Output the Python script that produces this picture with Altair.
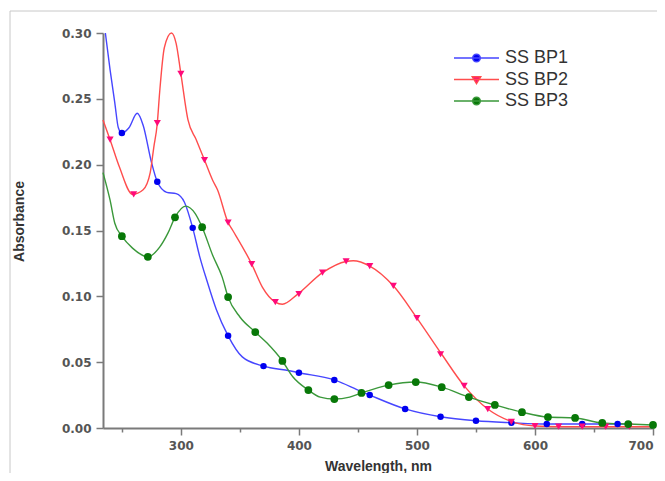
import altair as alt
import pandas as pd

series_names = ["SS BP1", "SS BP2", "SS BP3"]

# ---- curve traces (wavelength nm, absorbance) ----
bp1_wl = [236, 240, 244, 247, 250, 256, 263, 268, 275, 280, 288, 296, 303, 310, 316, 322, 330, 340, 352, 370, 392, 400, 430, 452, 460, 490, 520, 550, 580, 610, 640, 670, 680]
bp1_abs = [0.300, 0.272, 0.247, 0.228, 0.224, 0.228, 0.239, 0.230, 0.202, 0.187, 0.179, 0.178, 0.1715, 0.152, 0.130, 0.112, 0.090, 0.070, 0.054, 0.047, 0.0435, 0.042, 0.0365, 0.028, 0.025, 0.0145, 0.0085, 0.0055, 0.004, 0.003, 0.003, 0.003, 0.003]

bp2_wl = [234, 240, 248, 259, 268, 274, 277, 280, 282, 286, 292, 296, 300, 306, 313, 320, 327, 331, 340, 344, 360, 369, 380, 386, 399, 420, 440, 446, 460, 480, 500, 521, 540, 560, 581, 600, 620, 700]
bp2_abs = [0.234, 0.219, 0.198, 0.1775, 0.181, 0.194, 0.213, 0.2315, 0.255, 0.289, 0.300, 0.292, 0.269, 0.234, 0.219, 0.2035, 0.188, 0.181, 0.156, 0.150, 0.1245, 0.107, 0.0956, 0.094, 0.1017, 0.118, 0.1265, 0.127, 0.123, 0.108, 0.0835, 0.056, 0.032, 0.0144, 0.0046, 0.0015, 0.001, 0.001]

bp3_wl = [234, 240, 244, 250, 259, 272, 282, 289, 295, 304, 312, 318, 327, 335, 340, 350, 363, 373, 386, 395, 408, 418, 430, 443, 453, 476, 499, 521, 544, 566, 589, 611, 634, 657, 679, 700]
bp3_abs = [0.194, 0.173, 0.1555, 0.1457, 0.1366, 0.130, 0.1374, 0.148, 0.160, 0.1685, 0.163, 0.1525, 0.131, 0.1146, 0.0994, 0.0843, 0.0729, 0.0645, 0.0509, 0.0387, 0.0288, 0.0235, 0.022, 0.0235, 0.0266, 0.0326, 0.0349, 0.031, 0.0235, 0.0175, 0.012, 0.0083, 0.0076, 0.0038, 0.003, 0.0023]

# ---- marker positions ----
bp1_mk_wl = [250, 280, 310, 340, 370, 400, 430, 460, 490, 520, 550, 580, 610, 640, 670]
bp1_mk_abs = [0.224, 0.187, 0.152, 0.070, 0.047, 0.042, 0.0365, 0.025, 0.0145, 0.0085, 0.0055, 0.004, 0.003, 0.003, 0.003]

bp2_mk_wl = [240, 260, 280, 300, 320, 340, 360, 380, 400, 420, 440, 460, 480, 500, 520, 540, 560, 580, 600, 620, 640, 660, 680]
bp2_mk_abs = [0.219, 0.1775, 0.2315, 0.269, 0.2035, 0.156, 0.1245, 0.0956, 0.1017, 0.118, 0.1265, 0.123, 0.108, 0.0835, 0.056, 0.032, 0.0144, 0.0046, 0.0015, 0.001, 0.001, 0.001, 0.001]

bp3_mk_wl = [250, 272, 295, 318, 340, 363, 386, 408, 430, 453, 476, 499, 521, 544, 566, 589, 611, 634, 657, 679, 700]
bp3_mk_abs = [0.1457, 0.130, 0.160, 0.1525, 0.0994, 0.0729, 0.0509, 0.0288, 0.022, 0.0266, 0.0326, 0.0349, 0.031, 0.0235, 0.0175, 0.012, 0.0083, 0.0076, 0.0038, 0.003, 0.0023]

x_ticks = [250, 300, 350, 400, 450, 500, 550, 600, 650, 700]
y_ticks = [0.0, 0.025, 0.05, 0.075, 0.10, 0.125, 0.15, 0.175, 0.20, 0.225, 0.25, 0.275, 0.30]

line_colors = ["#4646ff", "#ff4d4d", "#3a983a"]
marker_colors = ["#0000f0", "#ff0a7a", "#087808"]
marker_shapes = ["circle", "triangle-down", "circle"]
marker_sizes = [42, 60, 42]
legend_paths = [
    "M-1,0H1M-0.17,0A0.17,0.17,0,1,0,0.17,0A0.17,0.17,0,1,0,-0.17,0Z",
    "M-1,0H1M-0.19,-0.12H0.19L0,0.19Z",
    "M-1,0H1M-0.17,0A0.17,0.17,0,1,0,0.17,0A0.17,0.17,0,1,0,-0.17,0Z",
]


def frame(names, wls, vals):
    rows = []
    for n, w, v in zip(names, wls, vals):
        for a, b in zip(w, v):
            rows.append({"series": n, "wl": a, "abs": b})
    return pd.DataFrame(rows)


line_df = frame(series_names, [bp1_wl, bp2_wl, bp3_wl], [bp1_abs, bp2_abs, bp3_abs])
mark_df = frame(series_names, [bp1_mk_wl, bp2_mk_wl, bp3_mk_wl], [bp1_mk_abs, bp2_mk_abs, bp3_mk_abs])
legend_df = pd.DataFrame({"series": series_names})

x_scale = alt.Scale(domain=[234, 700], nice=False, zero=False)
y_scale = alt.Scale(domain=[0, 0.30], nice=False, zero=False)

axis_common = dict(
    domainColor="#7a7a7a", domainWidth=2, tickColor="#7a7a7a", tickWidth=1.5,
    labelFont="DejaVu Sans", labelFontSize=12, labelFontWeight="bold", labelColor="#555555",
    labelPadding=5, grid=False,
    titleFont="Liberation Sans", titleFontSize=14, titleFontWeight="bold", titleColor="#333333",
)

x_axis = alt.Axis(
    values=x_ticks, title="Wavelength, nm",
    labelExpr="datum.value % 100 == 0 ? datum.label : ''",
    tickSize={"condition": {"test": "datum.value % 100 == 0", "value": 7}, "value": 4},
    titleY=31, titleBaseline="top",
    **axis_common,
)
y_axis = alt.Axis(
    values=y_ticks, title="Absorbance",
    labelExpr="round(datum.value*40) % 2 == 0 ? format(datum.value, '.2f') : ''",
    tickSize={"condition": {"test": "round(datum.value*40) % 2 == 0", "value": 7}, "value": 4},
    titleX=-84, titleY=188, titleAlign="center", titleBaseline="middle", titleAngle=270,
    **axis_common,
)

x_enc = alt.X("wl:Q", scale=x_scale, axis=x_axis)
y_enc = alt.Y("abs:Q", scale=y_scale, axis=y_axis)

border = alt.Chart(alt.Data(values=[{"a": 1}])).mark_rect(
    fill="transparent", stroke="#c8c8c8", strokeWidth=1
).encode(
    x=alt.value(-93), x2=alt.value(700), y=alt.value(-22), y2=alt.value(700)
)

lines = alt.Chart(line_df).mark_line(interpolate="monotone", strokeWidth=1.4).encode(
    x=x_enc, y=y_enc,
    stroke=alt.Stroke("series:N", scale=alt.Scale(domain=series_names, range=line_colors), legend=None),
)

points = alt.Chart(mark_df).mark_point(filled=True, opacity=1).encode(
    x=alt.X("wl:Q", scale=x_scale),
    y=alt.Y("abs:Q", scale=y_scale),
    fill=alt.Fill("series:N", scale=alt.Scale(domain=series_names, range=marker_colors), legend=None),
    shape=alt.Shape("series:N", scale=alt.Scale(domain=series_names, range=marker_shapes), legend=None),
    size=alt.Size("series:N", scale=alt.Scale(domain=series_names, range=marker_sizes), legend=None),
)

leg = dict(
    title=None, orient="none", legendX=350, legendY=15, padding=0,
    symbolSize=2025, symbolStrokeWidth=1.4, symbolOpacity=1, clipHeight=20, rowPadding=1.5,
    labelFont="Liberation Sans", labelFontSize=18, labelColor="#333333", labelOffset=5,
)

legend_layer = alt.Chart(legend_df).transform_filter("false").mark_point(filled=True).encode(
    fill=alt.Fill("series:N", scale=alt.Scale(domain=series_names, range=marker_colors), legend=alt.Legend(**leg)),
    stroke=alt.Stroke("series:N", scale=alt.Scale(domain=series_names, range=line_colors), legend=alt.Legend(**leg)),
    shape=alt.Shape("series:N", scale=alt.Scale(domain=series_names, range=legend_paths), legend=alt.Legend(**leg)),
)

chart = alt.layer(border, lines, points, legend_layer).resolve_scale(
    stroke="independent", fill="independent", shape="independent", size="independent"
).properties(
    width=550, height=395,
    autosize=alt.AutoSizeParams(type="none"),
    padding={"left": 95, "top": 25, "right": 4, "bottom": 45},
    background="white",
).configure_view(stroke=None)

chart.save("out.html", embed_options={"renderer": "svg", "actions": False})
